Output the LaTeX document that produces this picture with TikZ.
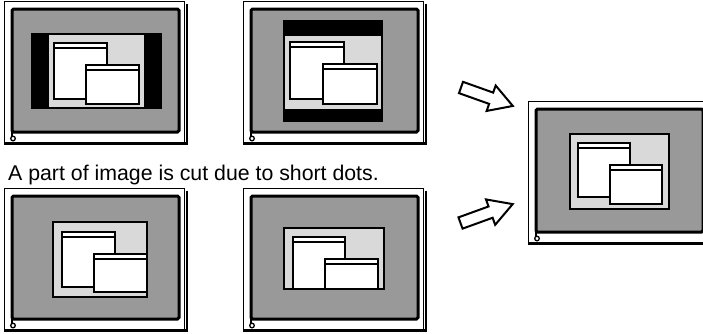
\documentclass[tikz,border=0pt]{standalone}
\usepackage{fontspec}
\setmainfont{Liberation Sans}
\definecolor{scrgray}{HTML}{999999}
\definecolor{imggray}{HTML}{D9D9D9}
\tikzset{
  frameline/.style={draw=black,line width=1pt},
  shadowline/.style={draw=black,line width=1.6pt},
  bottomline/.style={draw=black,line width=2.8pt},
  screen/.style={fill=scrgray,draw=black,line width=3pt,rounded corners=1.5pt},
  stem/.style={draw=black,line width=2.8pt},
  knob/.style={fill=white,draw=black,line width=1.3pt},
  imgbox/.style={fill=imggray,draw=black,line width=2.5pt},
  imgborder/.style={draw=black,line width=2.5pt},
  winbox/.style={fill=white,draw=black,line width=2.3pt},
  titleline/.style={draw=black,line width=1.2pt},
  blockarrow/.style={fill=white,draw=black,line width=2pt,line join=miter},
  caption/.style={anchor=base west,inner sep=0pt,font=\fontsize{21.3}{25}\selectfont}
}
\newcommand\monitorat[2]{%
  \begin{scope}[shift={(#1,#2)}]
    \draw[frameline] (4,1.5) rectangle (184,143);
    \draw[shadowline] (187,3.5) -- (187,144.5);
    \draw[bottomline] (4,143.5) -- (187.8,143.5);
    \draw[screen] (12,9) rectangle (179,132);
    \draw[stem] (12,131) -- (12,136);
    \draw[knob] (13,138.5) circle[radius=2.3];
  \end{scope}}
\newcommand\window[4]{%
  \draw[winbox] (#1,#2) rectangle (#3,#4);
  \draw[titleline] (#1,#2+5) -- (#3,#2+5);}
\begin{document}
\begin{tikzpicture}[x=1pt,y=-1pt]
\clip (0,0) rectangle (703,333);
\fill[white] (0,0) rectangle (703,333);

% monitor frames
\monitorat{0}{0}
\monitorat{239}{0}
\monitorat{0}{187}
\monitorat{239}{187}
\monitorat{524}{100}

% M1: black bars left/right
\fill[black] (31,33) rectangle (162,109);
\draw[imgbox] (48,34) rectangle (145,108);
\window{54}{43}{107}{99}
\window{86}{65}{139}{104}

% M2: black bars top/bottom
\fill[black] (283,20) rectangle (383,122);
\draw[imgbox] (284,35) rectangle (382,110);
\window{290}{42}{344}{99}
\window{323}{64}{377}{104}

% M3: cut on the right
\fill[imggray] (53,222) rectangle (147,297);
\begin{scope}
  \clip (53,222) rectangle (147,297);
  \window{62}{232}{115}{287}
  \window{94}{254}{152}{292}
\end{scope}
\draw[imgborder] (53,222) rectangle (147,297);

% M4: cut at the bottom
\fill[imggray] (284,228) rectangle (384,289);
\begin{scope}
  \clip (284,228) rectangle (384,289);
  \window{293}{237}{345}{296}
  \window{325}{259}{378}{296}
\end{scope}
\draw[imgborder] (284,228) rectangle (384,289);

% M5: correct result
\draw[imgbox] (570,134) rectangle (669,209);
\window{578}{143}{630}{197}
\window{610}{165}{662}{204}

% caption
\node[caption] (cap) at (8,180) {A part of image is cut due to short dots.};

% block arrows
\begin{scope}[shift={(461,87.5)},rotate=-19.6]
  \draw[blockarrow] (0,-6) -- (32,-6) -- (32,-13.5) -- (55,0) -- (32,13.5) -- (32,6) -- (0,6) -- cycle;
\end{scope}
\begin{scope}[shift={(460.5,223)},rotate=19.9]
  \draw[blockarrow] (0,-6) -- (32,-6) -- (32,-13.5) -- (55.5,0) -- (32,13.5) -- (32,6) -- (0,6) -- cycle;
\end{scope}
\end{tikzpicture}
\end{document}
